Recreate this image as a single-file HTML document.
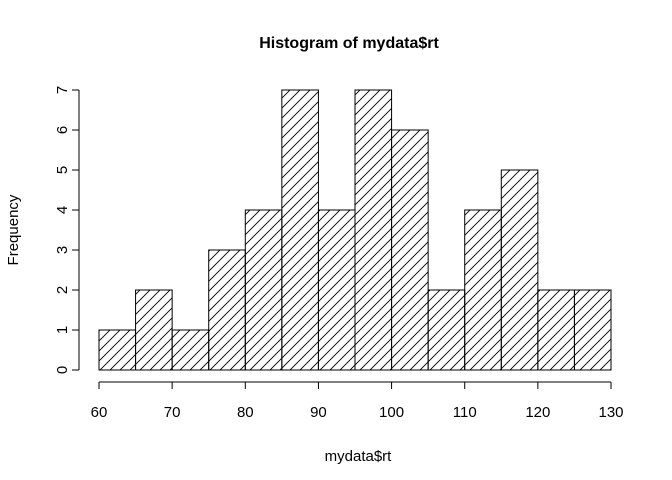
<!DOCTYPE html>
<html><head><meta charset="utf-8"><style>body{margin:0;background:#fff}svg{display:block;font-family:"Liberation Sans",Arial,sans-serif}</style></head>
<body>
<svg id="chart" width="672" height="480">
<defs><pattern id="hatch" patternUnits="userSpaceOnUse" width="10" height="10"><path d="M-1,11 L11,-1 M-6,6 L6,-6 M4,16 L16,4" stroke="#000" stroke-width="0.9"/></pattern></defs>
<text x="349" y="48" text-anchor="middle" style="font-size:16px;font-weight:bold">Histogram of mydata$rt</text>
<text x="358" y="461" text-anchor="middle" style="font-size:15px">mydata$rt</text>
<text transform="translate(18,230) rotate(-90)" text-anchor="middle" style="font-size:15px">Frequency</text>
<g id="bars"></g><g id="xaxis"></g><g id="yaxis"></g>
</svg>
<script>
const breaks=[60,65,70,75,80,85,90,95,100,105,110,115,120,125,130];
const counts=[1,2,1,3,4,7,4,7,6,2,4,5,2,2];
const xTicks=[60,70,80,90,100,110,120,130];
const yTicks=[0,1,2,3,4,5,6,7];
const NS="http://www.w3.org/2000/svg";
const x=v=>99+(v-60)*512/70, y=v=>370-v*40;
function mk(t,a,p){const e=document.createElementNS(NS,t);for(const k in a)e.setAttribute(k,a[k]);p.appendChild(e);return e;}
const bars=document.getElementById('bars');
counts.forEach((c,i)=>{
 const r=mk('rect',{x:x(breaks[i]),y:y(c),width:x(breaks[i+1])-x(breaks[i]),height:y(0)-y(c),fill:'url(#hatch)',stroke:'#000','stroke-width':1},bars);
 
 
});
const xa=document.getElementById('xaxis');


mk('line',{x1:x(xTicks[0]),x2:x(xTicks[xTicks.length-1]),y1:382,y2:382,stroke:'#000'},xa);
xTicks.forEach(t=>{mk('line',{x1:x(t),x2:x(t),y1:382,y2:389,stroke:'#000'},xa);
 const l=mk('text',{x:x(t),y:417,'text-anchor':'middle',style:'font-size:15px'},xa);l.textContent=t;
 
 });
const ya=document.getElementById('yaxis');


mk('line',{x1:79,x2:79,y1:y(yTicks[0]),y2:y(yTicks[yTicks.length-1]),stroke:'#000'},ya);
yTicks.forEach(t=>{mk('line',{x1:72,x2:79,y1:y(t),y2:y(t),stroke:'#000'},ya);
 const l=mk('text',{transform:`translate(67,${y(t)}) rotate(-90)`,'text-anchor':'middle',style:'font-size:15px'},ya);l.textContent=t;
 
 });
</script>
</body></html>
